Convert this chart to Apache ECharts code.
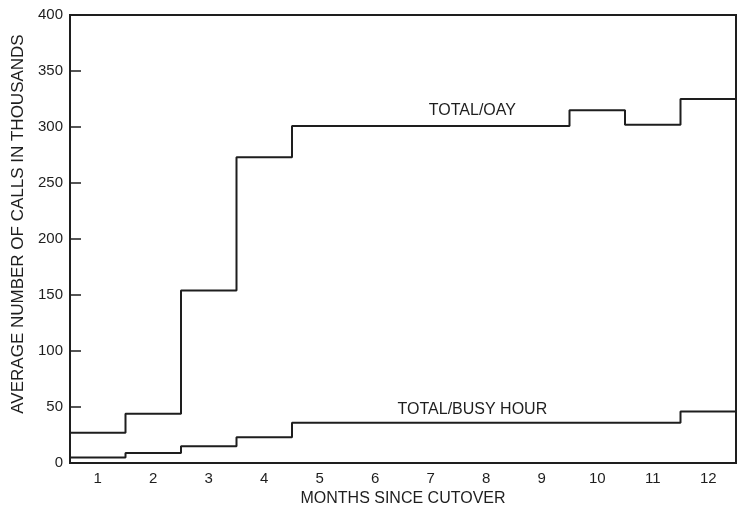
<!DOCTYPE html>
<html><head><meta charset="utf-8">
<script src="https://cdn.jsdelivr.net/npm/echarts@6/dist/echarts.min.js"></script>
<style>html,body{margin:0;padding:0;background:#fff}#c{width:738px;height:508px}</style>
</head><body><div id="c"></div>
<script>
const months = ['1','2','3','4','5','6','7','8','9','10','11','12'];
const totalPerDay = [27, 44, 154, 273, 301, 301, 301, 301, 301, 315, 302, 325];
const totalBusyHour = [5, 9, 15, 23, 36, 36, 36, 36, 36, 36, 36, 46];
const yTicks = [0, 50, 100, 150, 200, 250, 300, 350, 400];

function stepData(vals) {
  const pts = vals.map((v, i) => [i + 0.5, v]);
  pts.push([vals.length + 0.5, vals[vals.length - 1]]);
  return pts;
}
const ink = '#1e1e1e';
const font = 'Liberation Sans, Arial, sans-serif';
const chart = echarts.init(document.getElementById('c'));
chart.setOption({
  backgroundColor: '#fff',
  animation: false,
  grid: { left: 70, right: 2, top: 15, bottom: 45, outerBoundsMode: 'none', containLabel: false, show: true, borderColor: ink, borderWidth: 2, backgroundColor: 'transparent' },
  xAxis: [{
    type: 'category', data: months, boundaryGap: true,
    axisLine: { lineStyle: { color: ink, width: 2 } },
    axisTick: { inside: true, length: 11, lineStyle: { color: ink, width: 1.5 } },
    axisLabel: { color: ink, fontSize: 15, fontFamily: font, margin: 8 },
    name: 'MONTHS SINCE CUTOVER', nameLocation: 'middle', nameGap: 26,
    nameTextStyle: { color: ink, fontSize: 16, fontFamily: font }
  }, {
    type: 'value', min: 0.5, max: 12.5, show: false
  }],
  yAxis: {
    type: 'value', min: yTicks[0], max: yTicks[yTicks.length - 1], interval: 50,
    splitLine: { show: false },
    axisLine: { show: true, lineStyle: { color: ink, width: 2 } },
    axisTick: { show: true, inside: true, length: 11, lineStyle: { color: ink, width: 1.5 } },
    axisLabel: { color: ink, fontSize: 15, fontFamily: font, margin: 7 },
    name: 'AVERAGE NUMBER OF CALLS IN THOUSANDS', nameLocation: 'middle', nameGap: 43,
    nameTextStyle: { color: ink, fontSize: 17, fontFamily: font, padding: [0, 0, 0, 30] }
  },
  series: [{
    type: 'line', xAxisIndex: 1, step: 'end', symbol: 'none',
    data: stepData(totalPerDay),
    lineStyle: { color: ink, width: 2 },
    markPoint: {
      symbol: 'circle', symbolSize: 0, silent: true,
      data: [{ coord: [7.75, totalPerDay[6]], label: { show: true, formatter: 'TOTAL/OAY', position: 'top', distance: 7, color: ink, fontSize: 16, fontFamily: font } }]
    }
  }, {
    type: 'line', xAxisIndex: 1, step: 'end', symbol: 'none',
    data: stepData(totalBusyHour),
    lineStyle: { color: ink, width: 2 },
    markPoint: {
      symbol: 'circle', symbolSize: 0, silent: true,
      data: [{ coord: [7.75, totalBusyHour[6]], label: { show: true, formatter: 'TOTAL/BUSY HOUR', position: 'top', distance: 5, color: ink, fontSize: 16, fontFamily: font } }]
    }
  }]
});
</script></body></html>
